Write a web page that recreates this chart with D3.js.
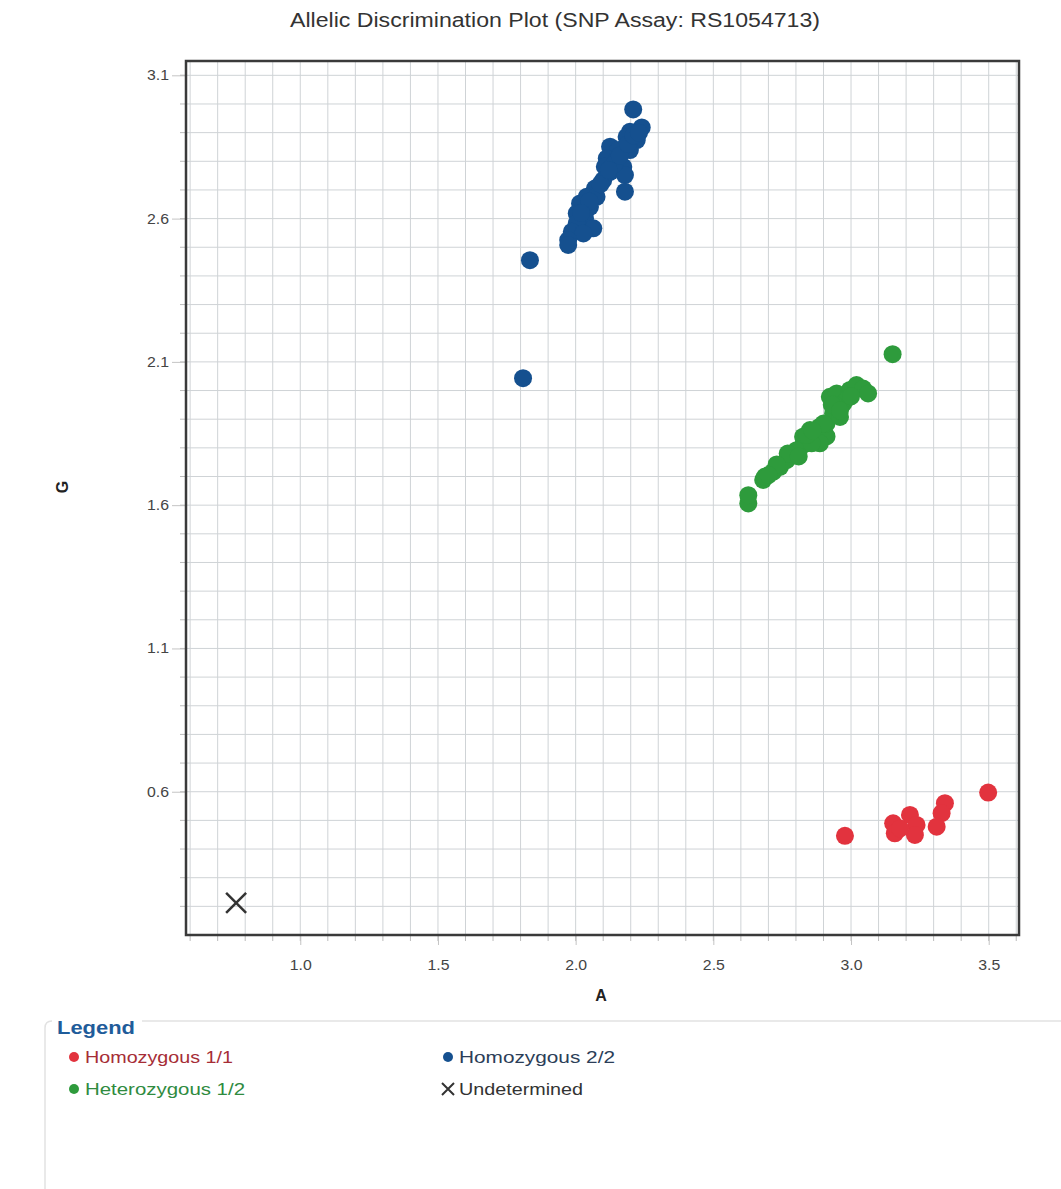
<!DOCTYPE html>
<html>
<head>
<meta charset="utf-8">
<script src="https://cdn.jsdelivr.net/npm/d3@7"></script>
<style>
  html, body { margin: 0; padding: 0; background: #fff; }
  svg { display: block; }
  text { font-family: "Liberation Sans", Arial, sans-serif; }
</style>
</head>
<body>
<script>
// Allelic discrimination data: allele A signal (x) vs allele G signal (y)
const homo11 = [ // Homozygous 1/1
  [2.978, 0.446], [3.498, 0.597], [3.341, 0.560], [3.329, 0.525], [3.311, 0.478],
  [3.214, 0.519], [3.238, 0.484], [3.232, 0.449], [3.153, 0.490], [3.159, 0.455],
  [3.178, 0.472]
];
const homo22 = [ // Homozygous 2/2
  [2.209, 2.981], [2.240, 2.918], [2.197, 2.903], [2.185, 2.885], [2.222, 2.874],
  [2.125, 2.851], [2.155, 2.839], [2.197, 2.839], [2.113, 2.810], [2.149, 2.804],
  [2.106, 2.781], [2.173, 2.781], [2.125, 2.763], [2.179, 2.752], [2.179, 2.694],
  [2.100, 2.734], [2.070, 2.705], [2.040, 2.676], [2.076, 2.676], [2.016, 2.653],
  [2.052, 2.641], [2.004, 2.618], [2.034, 2.601], [2.004, 2.583], [2.064, 2.566],
  [1.986, 2.554], [2.028, 2.548], [1.973, 2.525], [1.973, 2.508], [1.834, 2.455],
  [1.809, 2.043], [2.090, 2.720], [2.140, 2.790], [2.160, 2.820], [2.190, 2.860],
  [2.210, 2.890], [2.120, 2.770], [2.050, 2.660], [2.020, 2.620], [2.230, 2.900]
];
const hetero12 = [ // Heterozygous 1/2
  [3.151, 2.127], [2.627, 1.606], [2.627, 1.635], [2.681, 1.688], [2.687, 1.699],
  [2.718, 1.717], [2.742, 1.734], [2.766, 1.757], [2.796, 1.775], [2.826, 1.810],
  [2.826, 1.839], [2.851, 1.862], [2.875, 1.827], [2.887, 1.874], [2.911, 1.840],
  [2.911, 1.885], [2.935, 1.920], [2.923, 1.978], [2.948, 1.990], [2.972, 1.955],
  [2.996, 2.002], [3.020, 2.019], [3.044, 2.007], [3.062, 1.990], [2.960, 1.908],
  [2.887, 1.816], [2.802, 1.792], [2.857, 1.816], [2.990, 1.975], [2.940, 1.950],
  [2.770, 1.780], [2.840, 1.845], [2.900, 1.885], [2.930, 1.950], [3.000, 1.980],
  [2.730, 1.742], [2.700, 1.705], [2.810, 1.770], [2.860, 1.860], [2.960, 1.930]
];
const undetermined = [[0.767, 0.212]];

const xTicks = [1.0, 1.5, 2.0, 2.5, 3.0, 3.5];
const yTicks = [0.6, 1.1, 1.6, 2.1, 2.6, 3.1];
const legendItems = [
  { label: "Homozygous 1/1", key: "homo11", len: 148 },
  { label: "Homozygous 2/2", key: "homo22", len: 156 },
  { label: "Heterozygous 1/2", key: "hetero12", len: 160 },
  { label: "Undetermined", key: "und", len: 124 }
];

const colors = { homo11: "#e2333e", homo22: "#15508f", hetero12: "#2e9b3c" };
const textColors = { homo11: "#a62d36", homo22: "#2c3e58", hetero12: "#2f8b3f", und: "#333" };

const W = 1061, H = 1189;
const svg = d3.select("body").append("svg").attr("width", W).attr("height", H);
svg.append("rect").attr("width", W).attr("height", H).attr("fill", "#fff");

const x = d3.scaleLinear().domain([0.585, 3.61]).range([186, 1019]);
const y = d3.scaleLinear().domain([0.1, 3.15]).range([935, 61]);

// Title
svg.append("text").attr("x", 555).attr("y", 27).attr("text-anchor", "middle")
  .attr("font-size", 20).attr("fill", "#333")
  .attr("textLength", 530).attr("lengthAdjust", "spacingAndGlyphs")
  .text("Allelic Discrimination Plot (SNP Assay: RS1054713)");

// Grid at every 0.1
const xGrid = d3.range(6, 37).map(i => i / 10);
const yGrid = d3.range(2, 32).map(i => i / 10);
const grid = svg.append("g").attr("stroke", "#cfd3d6").attr("stroke-width", 1);
grid.selectAll("line.v").data(xGrid).join("line").attr("class", "v")
  .attr("x1", d => x(d)).attr("x2", d => x(d)).attr("y1", y.range()[1]).attr("y2", y.range()[0]);
grid.selectAll("line.h").data(yGrid).join("line").attr("class", "h")
  .attr("y1", d => y(d)).attr("y2", d => y(d)).attr("x1", x.range()[0]).attr("x2", x.range()[1]);

// Minor ticks outside the frame
const minor = svg.append("g").attr("stroke", "#bbb").attr("stroke-width", 1);
minor.selectAll("line.mx").data(xGrid).join("line").attr("class", "mx")
  .attr("x1", d => x(d)).attr("x2", d => x(d)).attr("y1", 935).attr("y2", 941);
minor.selectAll("line.my").data(yGrid.concat([3.1])).join("line").attr("class", "my")
  .attr("y1", d => y(d)).attr("y2", d => y(d)).attr("x1", 180).attr("x2", 186);

// Axes with labelled ticks
const xAxis = svg.append("g").attr("transform", "translate(0,935)")
  .call(d3.axisBottom(x).tickValues(xTicks).tickFormat(d3.format(".1f")).tickSize(10).tickPadding(15));
const yAxis = svg.append("g").attr("transform", "translate(186,0)")
  .call(d3.axisLeft(y).tickValues(yTicks).tickFormat(d3.format(".1f")).tickSize(14).tickPadding(3));
[xAxis, yAxis].forEach(a => {
  a.select(".domain").remove();
  a.selectAll(".tick line").attr("stroke", "#c4c4c4");
  a.selectAll(".tick text").attr("font-size", 14).attr("fill", "#444")
    .attr("textLength", 22).attr("lengthAdjust", "spacingAndGlyphs")
    .attr("font-family", "'Liberation Sans', Arial, sans-serif");
});

// Frame
svg.append("rect").attr("x", 186).attr("y", 61).attr("width", 833).attr("height", 874)
  .attr("fill", "none").attr("stroke", "#3a3a3a").attr("stroke-width", 2.5);

// Axis titles
svg.append("text").attr("x", 601).attr("y", 1001).attr("text-anchor", "middle")
  .attr("font-size", 16).attr("font-weight", "bold").attr("fill", "#222").text("A");
svg.append("text").attr("transform", "translate(68,487) rotate(-90)").attr("text-anchor", "middle")
  .attr("font-size", 16).attr("font-weight", "bold").attr("fill", "#222").text("G");

// Points
const R = 9;
const plot = svg.append("g");
[["homo11", homo11], ["hetero12", hetero12], ["homo22", homo22]].forEach(([k, data]) => {
  plot.append("g").selectAll("circle").data(data).join("circle")
    .attr("cx", d => x(d[0])).attr("cy", d => y(d[1])).attr("r", R)
    .attr("fill", colors[k]);
});
const xMark = (g, cx, cy, s, w) => {
  g.append("path").attr("d", `M${cx - s},${cy - s}L${cx + s},${cy + s}M${cx - s},${cy + s}L${cx + s},${cy - s}`)
    .attr("stroke", "#333").attr("stroke-width", w).attr("fill", "none");
};
undetermined.forEach(d => xMark(plot, x(d[0]), y(d[1]), 10, 2.5));

// Legend box
svg.append("path").attr("d", "M45,1190 L45,1028 Q45,1021 52,1021 L1070,1021")
  .attr("fill", "none").attr("stroke", "#e2e2e2").attr("stroke-width", 1.5);
svg.append("rect").attr("x", 52).attr("y", 1012).attr("width", 90).attr("height", 24).attr("fill", "#fff");
svg.append("text").attr("x", 57).attr("y", 1034).attr("font-size", 19).attr("font-weight", "bold")
  .attr("textLength", 78).attr("lengthAdjust", "spacingAndGlyphs")
  .attr("fill", "#1f5c9a").text("Legend");

const legPos = [[74, 1057], [448, 1057], [74, 1089], [448, 1089]];
legendItems.forEach((it, i) => {
  const [lx, ly] = legPos[i];
  const g = svg.append("g");
  if (it.key === "und") {
    xMark(g, lx, ly, 6, 2);
  } else {
    g.append("circle").attr("cx", lx).attr("cy", ly).attr("r", 5).attr("fill", colors[it.key]);
  }
  g.append("text").attr("x", lx + 11).attr("y", ly + 6).attr("font-size", 17)
    .attr("textLength", it.len).attr("lengthAdjust", "spacingAndGlyphs")
    .attr("fill", textColors[it.key]).text(it.label);
});
</script>
</body>
</html>
